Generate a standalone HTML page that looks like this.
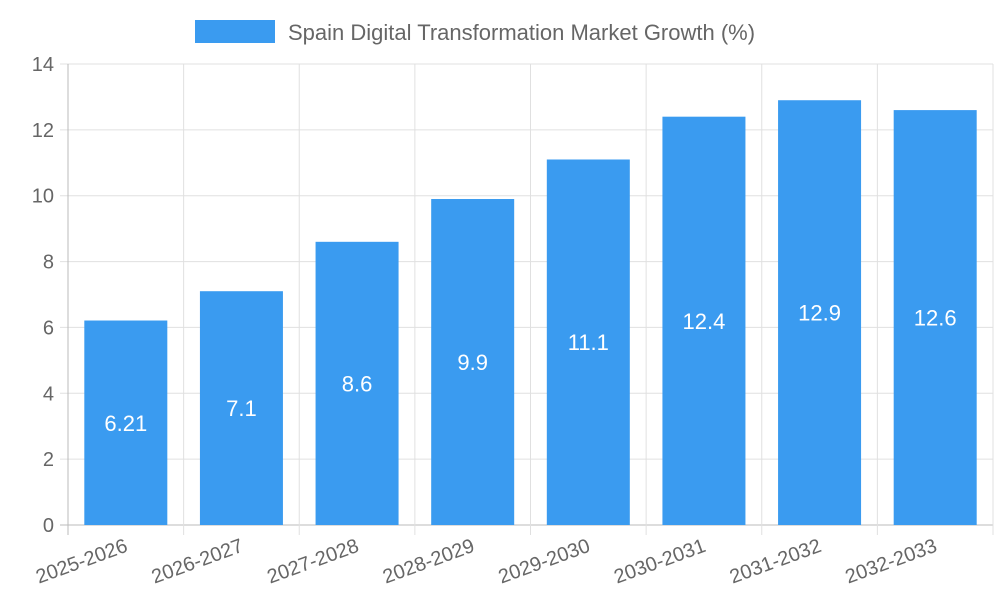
<!DOCTYPE html>
<html><head><meta charset="utf-8"><style>
body{margin:0;background:#fff;font-family:"Liberation Sans",sans-serif}
</style></head><body>
<svg id="chart" width="1000" height="600" xmlns="http://www.w3.org/2000/svg" font-family="Liberation Sans, sans-serif">
<g>
<rect x="195" y="20" width="80" height="23" fill="#3a9bf0"/>
<text x="288" y="40" font-size="22" fill="#666">Spain Digital Transformation Market Growth (%)</text>
</g>
<g id="grid"></g><g id="bars"></g><g id="labels"></g>
</svg>
<script>
const categories=["2025-2026","2026-2027","2027-2028","2028-2029","2029-2030","2030-2031","2031-2032","2032-2033"];
const values=[6.21,7.1,8.6,9.9,11.1,12.4,12.9,12.6];
const valueLabels=["6.21","7.1","8.6","9.9","11.1","12.4","12.9","12.6"];
const yTicks=[0,2,4,6,8,10,12,14];
const L=68,R=993,T=64,B=525,yMax=14;
const ns="http://www.w3.org/2000/svg";
const y=v=>B-(B-T)*v/yMax;
const bw=(R-L)/categories.length;
const x=i=>L+bw*i;
function mk(tag,attrs,parent,txt){const e=document.createElementNS(ns,tag);for(const k in attrs)e.setAttribute(k,attrs[k]);if(txt!==undefined)e.textContent=txt;document.getElementById(parent).appendChild(e);return e;}
yTicks.forEach(t=>{
 const l=mk('line',{x1:L-8,x2:R,y1:y(t),y2:y(t),stroke:t===0?'#bbb':'#e0e0e0','stroke-width':1},'grid');
 
 
 const tx=mk('text',{x:L-14,y:y(t)+7,'text-anchor':'end','font-size':20,fill:'#666'},'labels',String(t));
 
 
});
for(let i=0;i<=categories.length;i++){
 const l=mk('line',{x1:x(i),x2:x(i),y1:T,y2:B+10,stroke:i===0?'#bbb':'#e0e0e0','stroke-width':1},'grid');
 
 
}
categories.forEach((c,i)=>{
 const cx=x(i)+bw/2,w=83;
 const r=mk('rect',{x:cx-w/2,y:y(values[i]),width:w,height:B-y(values[i]),fill:'#3a9bf0'},'bars');
 
 
 const vl=mk('text',{x:cx,y:(y(values[i])+B)/2+8,'text-anchor':'middle','font-size':22,fill:'#fff'},'labels',valueLabels[i]);
 
 
 const xl=mk('text',{x:cx+3,y:B+26,'text-anchor':'end','font-size':20,fill:'#666',transform:`rotate(-20 ${cx+3} ${B+26})`},'labels',c);
 
 
});
</script>
</body></html>
